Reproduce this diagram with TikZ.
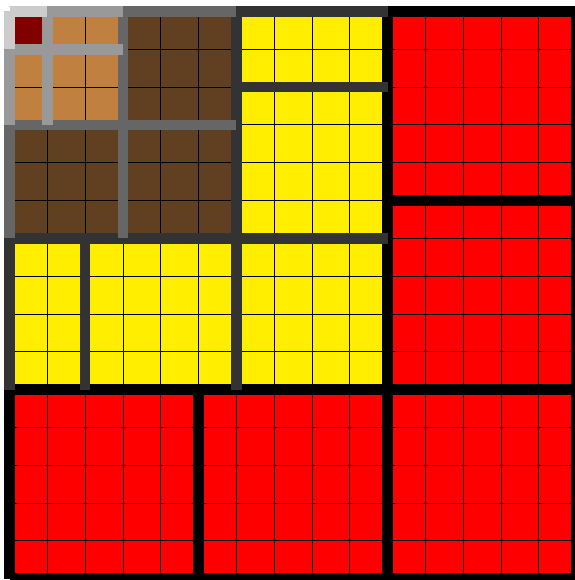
\documentclass[tikz,border=0pt]{standalone}
\usepackage{xcolor}
\definecolor{cellDarkRed}{RGB}{128,0,0}
\definecolor{cellOrange}{RGB}{191,128,64}
\definecolor{cellBrown}{RGB}{96,64,32}
\definecolor{cellYellow}{RGB}{255,238,0}
\definecolor{cellRed}{RGB}{255,0,0}
\definecolor{sepA}{RGB}{0,0,0}
\definecolor{sepB}{RGB}{51,51,51}
\definecolor{sepC}{RGB}{102,102,102}
\definecolor{sepD}{RGB}{153,153,153}
\definecolor{sepE}{RGB}{204,204,204}
\tikzset{every picture/.style={line width=0.75pt}}
\tikzset{
cellline/.style={draw=black, line width=0.6pt},
sepline/.style={line width=8pt, line cap=butt}}

\begin{document}
\begin{tikzpicture}[x=0.75pt,y=0.75pt,yscale=-1,xscale=1]
%set diagram to 574 x 580
\useasboundingbox (0,0) rectangle (574,580);

%Shape: Rectangle -- blocks, largest first
\fill [cellRed]     (9.5,11.5) rectangle (576.5,578.5) ;
\fill [cellYellow]  (9.5,11.5) rectangle (387.5,389.5) ;
\fill [cellBrown]   (9.5,11.5) rectangle (236.3,238.3) ;
\fill [cellOrange]  (9.5,11.5) rectangle (122.9,124.9) ;
\fill [cellDarkRed] (9.5,11.5) rectangle (47.3,49.3) ;

%Grid -- cell borders
\draw [cellline, shift={(9.5,11.5)}, step=37.8]    (0,0) grid (567.1,567.1) ;

%Straight Lines -- level 0
\draw [sepline, draw=sepA]    (9.5,11.5) -- (576.5,11.5)  (576.5,11.5) -- (576.5,578.5)  (9.5,578.5) -- (576.5,578.5)  (9.5,11.5) -- (9.5,578.5) ;
\draw [sepline, draw=sepA]    (387.5,11.5) -- (387.5,578.5)  (9.5,389.5) -- (576.5,389.5) ;
\draw [sepline, draw=sepA]    (198.5,389.5) -- (198.5,578.5)  (387.5,200.5) -- (576.5,200.5) ;

%Straight Lines -- level 1
\draw [sepline, draw=sepB]    (9.5,11.5) -- (387.5,11.5)  (9.5,11.5) -- (9.5,389.5) ;
\draw [sepline, draw=sepB]    (236.3,11.5) -- (236.3,389.5)  (9.5,238.3) -- (387.5,238.3) ;
\draw [sepline, draw=sepB]    (236.3,87.1) -- (387.5,87.1)  (85.1,238.3) -- (85.1,389.5) ;

%Straight Lines -- level 2
\draw [sepline, draw=sepC]    (9.5,11.5) -- (236.3,11.5)  (9.5,11.5) -- (9.5,238.3) ;
\draw [sepline, draw=sepC]    (122.9,11.5) -- (122.9,238.3)  (9.5,124.9) -- (236.3,124.9) ;

%Straight Lines -- level 3
\draw [sepline, draw=sepD]    (9.5,11.5) -- (122.9,11.5)  (9.5,11.5) -- (9.5,124.9) ;
\draw [sepline, draw=sepD]    (47.3,11.5) -- (47.3,124.9)  (9.5,49.3) -- (122.9,49.3) ;

%Straight Lines -- level 4
\draw [sepline, draw=sepE]    (9.5,11.5) -- (47.3,11.5)  (9.5,11.5) -- (9.5,49.3) ;

\end{tikzpicture}
\end{document}
